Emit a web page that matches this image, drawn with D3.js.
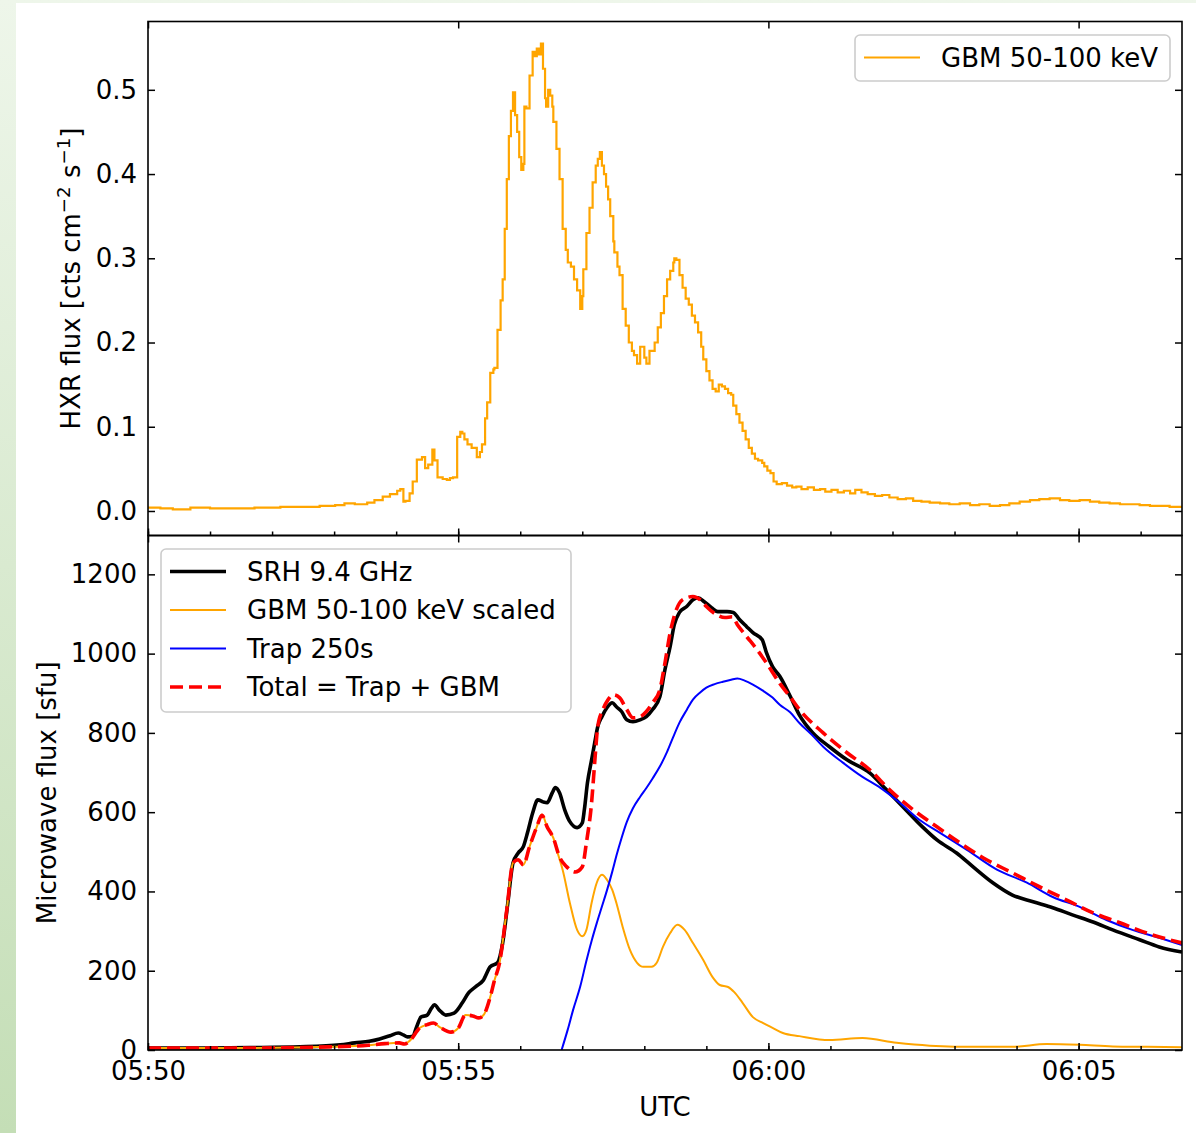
<!DOCTYPE html>
<html>
<head>
<meta charset="utf-8">
<script src="https://cdn.jsdelivr.net/npm/d3@7"></script>
<style>
  body { margin: 0; background: #fff; }
  svg text { font-family: "DejaVu Sans", sans-serif; }
</style>
</head>
<body>
<svg id="chart"></svg>
<script>
// all series: [seconds after 05:50:00 UTC, value]
const gbmHxr = [
  [0,0.004],[12,0.003],[24,0.002],[41,0.004],[60,0.003],[82,0.003],[103,0.004],[128,0.005],[147,0.005],
  [166,0.006],[181,0.007],[190,0.009],[200,0.008],[212,0.010],[219,0.013],[227,0.017],[234,0.020],
  [241,0.024],[244,0.026],[247,0.011],[249,0.012],[253,0.021],[256,0.035],[260,0.061],[265,0.064],
  [268,0.051],[271,0.055],[275,0.073],[277,0.060],[280,0.040],[285,0.038],[289,0.037],[292,0.039],
  [295,0.040],[299,0.088],[302,0.094],[304,0.092],[306,0.085],[309,0.079],[313,0.075],[318,0.064],
  [321,0.070],[323,0.079],[326,0.110],[328,0.129],[331,0.164],[334,0.168],[335,0.170],[338,0.215],
  [341,0.250],[343,0.275],[345,0.335],[347,0.394],[349,0.445],[351,0.475],[353,0.497],[355,0.470],
  [357,0.450],[359,0.420],[361,0.405],[363,0.412],[364,0.480],[366,0.478],[369,0.517],[372,0.545],
  [374,0.540],[376,0.549],[378,0.542],[380,0.555],[382,0.525],[384,0.490],[385,0.480],[387,0.500],
  [389,0.493],[391,0.480],[392,0.462],[395,0.430],[398,0.394],[401,0.335],[404,0.310],[406,0.295],
  [409,0.290],[412,0.275],[415,0.262],[418,0.240],[420,0.255],[421,0.287],[424,0.330],[427,0.360],
  [430,0.390],[433,0.410],[435,0.418],[437,0.426],[439,0.410],[441,0.400],[443,0.385],[445,0.370],
  [447,0.350],[450,0.320],[451,0.307],[454,0.290],[456,0.280],[459,0.240],[462,0.220],[465,0.200],
  [468,0.190],[470,0.185],[473,0.175],[476,0.195],[479,0.195],[480,0.182],[482,0.175],[485,0.190],
  [487,0.190],[490,0.200],[493,0.218],[496,0.235],[499,0.255],[502,0.275],[505,0.285],[508,0.295],
  [509,0.300],[511,0.298],[514,0.280],[517,0.265],[520,0.252],[523,0.245],[526,0.232],[529,0.224],
  [532,0.212],[535,0.195],[537,0.180],[540,0.166],[543,0.155],[546,0.145],[549,0.142],[552,0.150],
  [555,0.148],[558,0.145],[561,0.140],[564,0.138],[566,0.125],[569,0.115],[572,0.105],[575,0.095],
  [578,0.085],[581,0.075],[584,0.068],[587,0.062],[590,0.060],[594,0.057],[596,0.053],[599,0.048],
  [602,0.045],[605,0.035],[608,0.032],[613,0.033],[618,0.030],[623,0.028],[627,0.029],[632,0.026],
  [638,0.028],[644,0.025],[650,0.026],[655,0.023],[661,0.025],[667,0.022],[673,0.024],[679,0.021],
  [684,0.025],[690,0.022],[696,0.020],[703,0.018],[710,0.019],[717,0.016],[725,0.014],[733,0.015],
  [740,0.012],[748,0.011],[756,0.010],[766,0.009],[775,0.008],[785,0.009],[795,0.007],[804,0.008],
  [814,0.006],[824,0.007],[833,0.009],[843,0.011],[853,0.013],[862,0.014],[872,0.015],[882,0.013],
  [891,0.012],[901,0.013],[911,0.011],[920,0.010],[930,0.009],[940,0.008],[949,0.008],[959,0.007],
  [969,0.006],[978,0.006],[988,0.005],[1000,0.004]
];

const srh94 = [
  [0,5],[50,5],[99,6],[147,8],[186,13],[200,18],[214,22],[224,28],[234,36],[242,43],[247,38],[251,33],
  [256,35],[260,60],[264,83],[270,88],[274,105],[277,114],[282,100],[288,88],[296,93],[304,119],[310,144],
  [317,160],[324,175],[331,210],[338,220],[343,270],[348,371],[353,472],[358,497],[363,513],[367,548],
  [372,598],[377,631],[382,626],[386,624],[391,649],[394,662],[398,649],[403,606],[408,576],[415,561],
  [420,573],[422,606],[425,674],[429,732],[432,775],[435,816],[439,841],[444,864],[449,876],[453,866],
  [458,854],[463,833],[469,828],[476,833],[482,841],[488,859],[495,891],[500,960],[505,1018],[509,1073],
  [514,1104],[521,1119],[527,1136],[532,1141],[538,1131],[545,1116],[551,1106],[560,1106],[566,1104],
  [572,1086],[579,1068],[585,1053],[594,1035],[598,1003],[604,967],[611,943],[621,893],[630,845],
  [643,800],[659,765],[676,732],[698,699],[714,657],[730,614],[749,563],[763,530],[782,497],[798,462],
  [817,422],[836,391],[856,374],[875,359],[894,341],[914,323],[933,303],[959,278],[978,260],[1000,247]
];

const gbmScaled = [
  [0,5],[99,5],[176,8],[213,12],[229,16],[243,18],[248,15],[253,23],[263,56],[270,64],[276,68],[282,58],
  [293,45],[300,55],[307,88],[314,86],[320,81],[325,90],[331,134],[335,175],[340,220],[347,354],[353,472],
  [358,480],[363,467],[369,513],[376,563],[381,594],[386,563],[392,535],[397,490],[401,455],[408,371],
  [415,303],[420,287],[424,303],[429,371],[434,422],[439,442],[444,429],[449,404],[453,371],[459,311],
  [466,253],[473,220],[479,210],[487,210],[492,220],[498,260],[505,295],[512,316],[519,303],[527,270],
  [537,227],[546,184],[553,164],[561,159],[567,146],[575,119],[585,83],[595,68],[604,56],[614,43],
  [630,35],[659,25],[691,30],[724,18],[756,11],[804,8],[836,8],[869,15],[901,13],[933,9],[966,8],[1000,7]
];

const trap250 = [
  [400,0],[406,52],[411,100],[418,160],[424,225],[429,275],[434,320],[439,362],[444,404],[449,450],
  [453,490],[458,535],[463,575],[469,610],[476,639],[482,661],[488,685],[495,715],[502,752],[508,790],
  [514,826],[521,858],[527,884],[534,902],[540,914],[548,923],[556,929],[564,934],[570,937],[577,932],
  [585,922],[595,906],[604,889],[611,871],[621,852],[630,825],[642,795],[653,765],[672,725],[691,689],
  [708,662],[727,624],[746,581],[766,548],[792,505],[821,455],[850,422],[875,386],[901,361],[927,328],
  [952,303],[978,283],[1000,265]
];

const trapPlusGbm = [
  [0,5],[99,5],[176,8],[213,12],[229,16],[243,18],[248,15],[253,23],[263,56],[270,64],[276,68],[282,58],
  [293,45],[300,55],[307,88],[314,86],[320,81],[325,90],[331,134],[335,175],[340,220],[347,354],[353,472],
  [358,480],[363,467],[369,513],[376,563],[381,592],[386,563],[392,535],[398,487],[405,462],[413,449],
  [420,462],[424,523],[429,624],[432,725],[435,816],[440,859],[445,884],[450,896],[456,889],[463,859],
  [469,838],[476,841],[482,854],[488,876],[495,909],[500,977],[505,1053],[511,1111],[517,1136],[527,1144],
  [534,1136],[540,1119],[550,1098],[558,1091],[565,1093],[570,1073],[579,1043],[589,1010],[598,977],
  [611,925],[621,891],[630,859],[653,800],[676,750],[698,707],[717,657],[740,606],[763,563],[785,523],
  [811,480],[836,447],[862,412],[888,379],[914,346],[940,321],[966,295],[1000,270]
];

const yTicksTop = [0, 0.1, 0.2, 0.3, 0.4, 0.5];
const yTicksBottom = [0, 200, 400, 600, 800, 1000, 1200];
const legendTop = ["GBM 50-100 keV"];
const legendBottom = ["SRH 9.4 GHz", "GBM 50-100 keV scaled", "Trap 250s", "Total = Trap + GBM"];

const width = 1196, height = 1133;
const left = 148, right = 1182;
const top1 = 21.5, mid = 535.5, bottom2 = 1050;
const fontSize = 26;

const t0 = Date.UTC(2024, 0, 1, 5, 50, 0);
const toDate = s => new Date(t0 + s * 1000);

const x = d3.scaleUtc([toDate(0), toDate(1000)], [left, right]);
const yTop = d3.scaleLinear([-0.0291, 0.5811], [mid, top1]);
const yBot = d3.scaleLinear([0, 1298], [bottom2, mid]);

const svg = d3.select("#chart").attr("width", width).attr("height", height);

// page background (green strip on the left / top)
const defs = svg.append("defs");
const grad = defs.append("linearGradient").attr("id", "bg").attr("x1", 0).attr("y1", 0).attr("x2", 0).attr("y2", 1);
grad.append("stop").attr("offset", 0).attr("stop-color", "#eef6ea");
grad.append("stop").attr("offset", 1).attr("stop-color", "#c4deb6");
svg.append("rect").attr("width", width).attr("height", height).attr("fill", "url(#bg)");
svg.append("rect").attr("x", 16).attr("y", 3).attr("width", width - 16).attr("height", height - 3).attr("fill", "#fff");

defs.append("clipPath").attr("id", "clipTop").append("rect")
  .attr("x", left).attr("y", top1).attr("width", right - left).attr("height", mid - top1);
defs.append("clipPath").attr("id", "clipBot").append("rect")
  .attr("x", left).attr("y", mid).attr("width", right - left).attr("height", bottom2 - mid);

// lines
const lineTop = d3.line().x(d => x(toDate(d[0]))).y(d => yTop(d[1])).curve(d3.curveStepAfter);
const lineBot = d3.line().x(d => x(toDate(d[0]))).y(d => yBot(d[1])).curve(d3.curveMonotoneX);

svg.append("path").datum(gbmHxr)
  .attr("clip-path", "url(#clipTop)")
  .attr("d", lineTop).attr("fill", "none")
  .attr("stroke", "#ffa500").attr("stroke-width", 2.2);

const gBot = svg.append("g").attr("clip-path", "url(#clipBot)");
const botSeries = [
  { data: srh94, color: "#000", width: 3.6, dash: null },
  { data: gbmScaled, color: "#ffa500", width: 2, dash: null },
  { data: trap250, color: "#0000ff", width: 2, dash: null },
  { data: trapPlusGbm, color: "#ff0000", width: 3.6, dash: "13,6" }
];
gBot.selectAll("path")
  .data(botSeries)
  .join("path")
  .attr("d", d => lineBot(d.data))
  .attr("fill", "none")
  .attr("stroke", d => d.color)
  .attr("stroke-width", d => d.width)
  .attr("stroke-dasharray", d => d.dash)
  .attr("stroke-linejoin", "round");

// axes
function styleAxis(g) {
  g.attr("font-size", fontSize).attr("font-family", "DejaVu Sans");
  g.select(".domain").remove();
  g.selectAll(".tick line").attr("stroke", "#000").attr("stroke-width", 1.5);
  g.selectAll(".tick text").attr("fill", "#000");
}

const major = d3.utcMinute.every(5);
const minor = d3.utcMinute.every(1);

// top panel
svg.append("g").attr("transform", `translate(${left},0)`)
  .call(d3.axisLeft(yTop).tickValues(yTicksTop).tickFormat(d3.format(".1f")).tickSize(-7).tickPadding(11))
  .call(styleAxis);
svg.append("g").attr("transform", `translate(${right},0)`)
  .call(d3.axisRight(yTop).tickValues(yTicksTop).tickFormat("").tickSize(-7))
  .call(styleAxis);
svg.append("g").attr("transform", `translate(0,${mid})`)
  .call(d3.axisBottom(x).ticks(major).tickFormat("").tickSize(-7))
  .call(styleAxis);
svg.append("g").attr("transform", `translate(0,${mid})`)
  .call(d3.axisBottom(x).ticks(minor).tickFormat("").tickSize(-4))
  .call(styleAxis);
svg.append("g").attr("transform", `translate(0,${top1})`)
  .call(d3.axisTop(x).ticks(major).tickFormat("").tickSize(-7))
  .call(styleAxis);

// bottom panel
svg.append("g").attr("transform", `translate(${left},0)`)
  .call(d3.axisLeft(yBot).tickValues(yTicksBottom).tickFormat(d3.format("d")).tickSize(-7).tickPadding(11))
  .call(styleAxis);
svg.append("g").attr("transform", `translate(${right},0)`)
  .call(d3.axisRight(yBot).tickValues(yTicksBottom).tickFormat("").tickSize(-7))
  .call(styleAxis);
svg.append("g").attr("transform", `translate(0,${bottom2})`)
  .call(d3.axisBottom(x).ticks(major).tickFormat(d3.utcFormat("%H:%M")).tickSize(-7).tickPadding(12))
  .call(styleAxis);
svg.append("g").attr("transform", `translate(0,${bottom2})`)
  .call(d3.axisBottom(x).ticks(minor).tickFormat("").tickSize(-4))
  .call(styleAxis);
svg.append("g").attr("transform", `translate(0,${mid})`)
  .call(d3.axisTop(x).ticks(major).tickFormat("").tickSize(-7))
  .call(styleAxis);

// frames
[[top1, mid], [mid, bottom2]].forEach(([a, b]) => {
  svg.append("rect").attr("x", left).attr("y", a).attr("width", right - left).attr("height", b - a)
    .attr("fill", "none").attr("stroke", "#000").attr("stroke-width", 1.6);
});

// axis labels
const lab1 = svg.append("text")
  .attr("transform", `translate(80,${(top1 + mid) / 2}) rotate(-90)`)
  .attr("text-anchor", "middle").attr("font-size", fontSize).attr("fill", "#000");
lab1.append("tspan").text("HXR flux [cts cm");
lab1.append("tspan").attr("baseline-shift", "super").attr("font-size", "70%").text("\u22122");
lab1.append("tspan").text(" s");
lab1.append("tspan").attr("baseline-shift", "super").attr("font-size", "70%").text("\u22121");
lab1.append("tspan").text("]");

svg.append("text")
  .attr("transform", `translate(56,${(mid + bottom2) / 2}) rotate(-90)`)
  .attr("text-anchor", "middle").attr("font-size", fontSize).attr("fill", "#000")
  .text("Microwave flux [sfu]");

svg.append("text")
  .attr("x", (left + right) / 2).attr("y", 1116)
  .attr("text-anchor", "middle").attr("font-size", fontSize).attr("fill", "#000")
  .text("UTC");

// legends
function legend(x0, y0, w, h, items, styles) {
  const g = svg.append("g");
  g.append("rect").attr("x", x0).attr("y", y0).attr("width", w).attr("height", h).attr("rx", 5)
    .attr("fill", "#fff").attr("fill-opacity", 0.8).attr("stroke", "#cccccc").attr("stroke-width", 1.6);
  items.forEach((name, i) => {
    const cy = y0 + 22.5 + i * 38.5;
    g.append("line").attr("x1", x0 + 9).attr("x2", x0 + 65).attr("y1", cy).attr("y2", cy)
      .attr("stroke", styles[i].color).attr("stroke-width", styles[i].width)
      .attr("stroke-dasharray", styles[i].dash);
    g.append("text").attr("x", x0 + 86).attr("y", cy).attr("dy", "0.35em")
      .attr("font-size", fontSize).attr("fill", "#000").text(name);
  });
}
legend(855, 35, 315, 46, legendTop, [{ color: "#ffa500", width: 2, dash: null }]);
legend(161, 549, 410, 163, legendBottom, botSeries);
</script>
</body>
</html>
